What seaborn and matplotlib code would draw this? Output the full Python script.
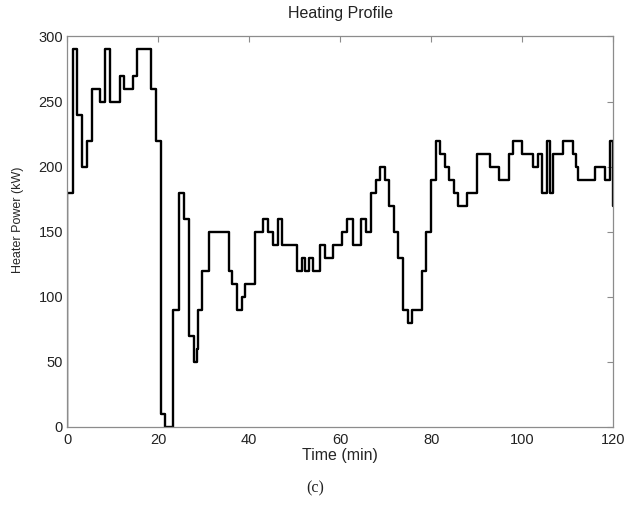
#!/usr/bin/env python3

import pandas as pd
import matplotlib.pyplot as plt
import seaborn as sns

# step start times (min) and heater power (kW)
time_min = [0, 0, 1.3, 2.2, 3.3, 4.4, 5.5, 7.2, 8.3, 9.4, 11.5, 12.4, 14.5, 15.3,
            18.4, 19.6, 20.7, 21.5, 23.2, 24.6, 25.7, 26.7, 27.9, 28.5, 28.8,
            29.7, 31.2, 35.6, 36.1, 37.2, 38.3, 39.1, 41.3, 43.1, 44.2, 45.2,
            46.2, 47.2, 50.5, 51.5, 52.2, 53.1, 54.0, 55.5, 56.6, 58.4, 60.4,
            61.4, 62.9, 64.6, 65.6, 66.8, 67.9, 68.8, 69.9, 70.8, 71.9, 72.7,
            73.8, 74.9, 75.8, 78.0, 78.8, 79.9, 81.0, 81.9, 83.0, 83.9, 84.9,
            85.8, 87.8, 90.0, 92.9, 94.8, 97.0, 97.9, 100.0, 102.3, 103.4,
            104.3, 105.4, 106.1, 106.8, 109.0, 111.2, 111.8, 112.3, 116.0,
            118.2, 119.3, 120.0]
power_kw = [0, 180, 290, 240, 200, 220, 260, 250, 290, 250, 270, 260, 270, 290,
            260, 220, 10, 0, 90, 180, 160, 70, 50, 60, 90,
            120, 150, 120, 110, 90, 100, 110, 150, 160, 150, 140,
            160, 140, 120, 130, 120, 130, 120, 140, 130, 140, 150,
            160, 140, 160, 150, 180, 190, 200, 190, 170, 150, 130,
            90, 80, 90, 120, 150, 190, 220, 210, 200, 190, 180,
            170, 180, 210, 200, 190, 210, 220, 210, 200, 210,
            180, 220, 180, 210, 220, 210, 200, 190, 200,
            190, 220, 170]

df = pd.DataFrame({"Time (min)": time_min, "Heater Power (kW)": power_kw})

sns.set_style("white")
plt.rcParams["font.family"] = ["Liberation Sans", "DejaVu Sans"]
plt.rcParams["axes.edgecolor"] = "#8c8c8c"
plt.rcParams["axes.linewidth"] = 0.9
plt.rcParams["text.color"] = "#222222"
plt.rcParams["xtick.labelcolor"] = "#222222"
plt.rcParams["ytick.labelcolor"] = "#222222"

fig = plt.figure(figsize=(6.3, 5.23), dpi=100)
ax = fig.add_axes([0.1068, 0.1836, 0.8667, 0.7467])

sns.lineplot(data=df, x="Time (min)", y="Heater Power (kW)", estimator=None, sort=False,
             drawstyle="steps-post", color="black", linewidth=1.7, ax=ax)

ax.set_xlim(0, 120)
ax.set_ylim(0, 300)
ax.set_xticks(range(0, 121, 20))
ax.set_yticks(range(0, 301, 50))
ax.tick_params(direction="in", length=4, width=0.8, color="#8c8c8c",
               top=True, right=True, labelsize=10.5)
ax.tick_params(axis="x", pad=4)
ax.tick_params(axis="y", pad=3)
ax.set_title("Heating Profile", fontsize=11.5, pad=13)
ax.set_xlabel("Time (min)", fontsize=11.5, labelpad=1)
ax.set_ylabel("Heater Power (kW)", fontsize=9)
ax.yaxis.set_label_coords(-0.08, 0.53)

fig.text(0.5, 0.067, "(c)", ha="center", va="center", fontsize=11.5,
         family=["Liberation Serif", "DejaVu Serif"])

fig.savefig("out.png", dpi=100)
